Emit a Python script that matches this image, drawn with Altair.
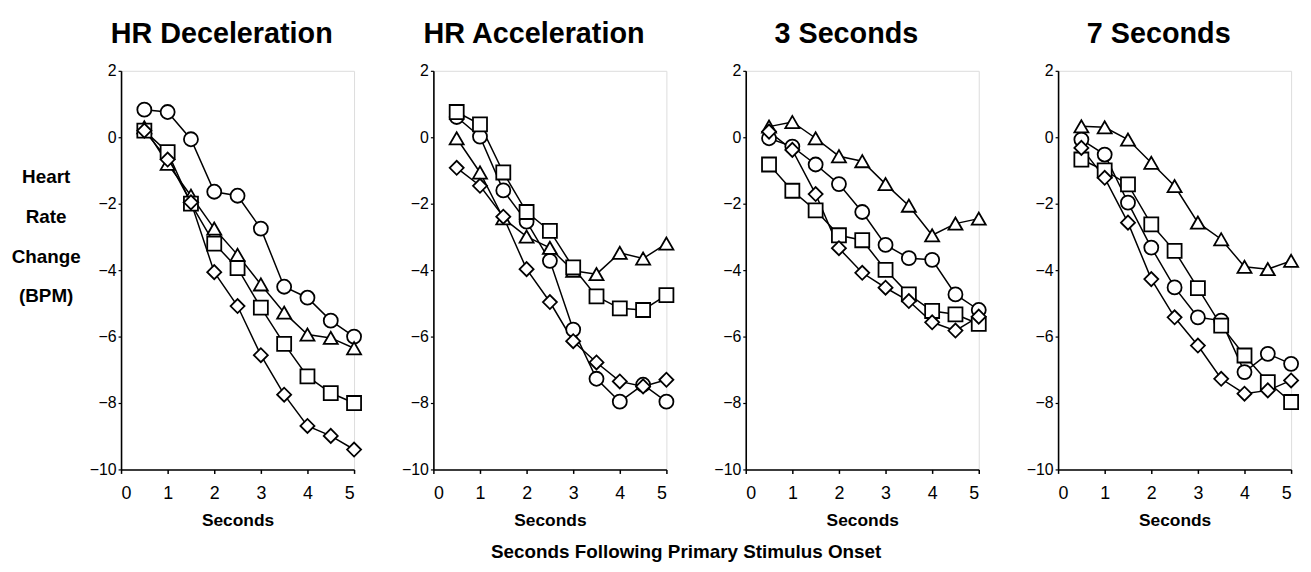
import altair as alt
import pandas as pd

seconds = [0.5, 1.0, 1.5, 2.0, 2.5, 3.0, 3.5, 4.0, 4.5, 5.0]
panel_titles = ["HR Deceleration", "HR Acceleration", "3 Seconds", "7 Seconds"]
series_names = ["circle", "triangle", "square", "diamond"]
shape_range = ["circle", "triangle-up", "square", "diamond"]

# HR Deceleration
dec_circle = [0.83, 0.76, -0.06, -1.64, -1.76, -2.75, -4.50, -4.83, -5.52, -6.00]
dec_triangle = [0.30, -0.80, -1.76, -2.75, -3.54, -4.43, -5.28, -5.94, -6.04, -6.35]
dec_square = [0.20, -0.45, -2.00, -3.20, -3.94, -5.13, -6.22, -7.20, -7.70, -8.00]
dec_diamond = [0.20, -0.67, -1.96, -4.06, -5.08, -6.56, -7.75, -8.69, -8.99, -9.40]

# HR Acceleration
acc_circle = [0.61, 0.02, -1.60, -2.54, -3.72, -5.79, -7.27, -7.96, -7.45, -7.96]
acc_triangle = [-0.03, -1.06, -2.44, -2.99, -3.33, -4.02, -4.12, -3.48, -3.65, -3.20]
acc_square = [0.76, 0.39, -1.06, -2.25, -2.82, -3.92, -4.79, -5.15, -5.20, -4.75]
acc_diamond = [-0.92, -1.46, -2.39, -3.97, -4.96, -6.14, -6.78, -7.35, -7.50, -7.30]

# 3 Seconds
s3_circle = [-0.03, -0.28, -0.82, -1.41, -2.25, -3.24, -3.64, -3.69, -4.73, -5.20]
s3_triangle = [0.32, 0.46, -0.03, -0.57, -0.72, -1.41, -2.06, -2.95, -2.60, -2.45]
s3_square = [-0.82, -1.61, -2.20, -2.95, -3.10, -3.99, -4.73, -5.23, -5.33, -5.62]
s3_diamond = [0.17, -0.38, -1.71, -3.34, -4.08, -4.53, -4.93, -5.57, -5.82, -5.40]

# 7 Seconds
s7_circle = [-0.07, -0.52, -1.97, -3.32, -4.52, -5.42, -5.52, -7.07, -6.52, -6.82]
s7_triangle = [0.33, 0.30, -0.07, -0.77, -1.47, -2.57, -3.07, -3.90, -3.97, -3.72]
s7_square = [-0.67, -1.00, -1.42, -2.62, -3.42, -4.54, -5.67, -6.57, -7.37, -7.97]
s7_diamond = [-0.32, -1.22, -2.57, -4.27, -5.42, -6.27, -7.27, -7.72, -7.62, -7.32]

panel_data = [
    [dec_circle, dec_triangle, dec_square, dec_diamond],
    [acc_circle, acc_triangle, acc_square, acc_diamond],
    [s3_circle, s3_triangle, s3_square, s3_diamond],
    [s7_circle, s7_triangle, s7_square, s7_diamond],
]

y_title_lines = ["Heart", "Rate", "Change", "(BPM)"]
x_title = "Seconds"
bottom_title = "Seconds Following Primary Stimulus Onset"

FONT = "Liberation Sans"


def make_df(values):
    rows = []
    for name, vals in zip(series_names, values):
        for t, v in zip(seconds, vals):
            rows.append({"t": t, "v": v, "s": name})
    return pd.DataFrame(rows)


def make_panel(title, values, first):
    df = make_df(values)
    x = alt.X(
        "t:Q",
        scale=alt.Scale(domain=[0, 5], nice=False, zero=False),
        axis=alt.Axis(
            values=[0, 1, 2, 3, 4, 5], title=x_title, grid=False,
            labelFontSize=18, labelFont=FONT, labelPadding=11,
            tickSize=4, tickColor="black", tickWidth=1.5,
            domainColor="black", domainWidth=1.6, labelColor="black",
            titleFont=FONT, titleFontSize=17.5, titleFontWeight="bold",
            titlePadding=10, titleColor="black",
        ),
    )
    yaxis_kwargs = dict(
        values=[-10, -8, -6, -4, -2, 0, 2], grid=False,
        labelFontSize=16, labelFont=FONT, labelPadding=2, labelColor="black",
        tickSize=3, tickColor="black", tickWidth=1.2,
        domainColor="black", domainWidth=1.6,
    )
    if first:
        yaxis_kwargs.update(
            title=y_title_lines, titleAngle=0,
            titleFont=FONT, titleFontSize=19, titleFontWeight="bold",
            titleColor="black", titleAlign="center", titleBaseline="bottom",
            titleX=-76, titleY=117, titleLineHeight=40,
        )
    else:
        yaxis_kwargs.update(title=None)
    y = alt.Y(
        "v:Q",
        scale=alt.Scale(domain=[-10, 2], nice=False, zero=False),
        axis=alt.Axis(**yaxis_kwargs),
    )
    lines = alt.Chart(df).mark_line(color="black", strokeWidth=1.5).encode(
        x=x, y=y, detail="s:N", order="t:Q"
    )
    pts = alt.Chart(df).mark_point(
        filled=True, fill="white", stroke="black", strokeWidth=1.8,
        size=200, opacity=1, fillOpacity=1,
    ).encode(
        x=x, y=y,
        shape=alt.Shape("s:N", scale=alt.Scale(domain=series_names, range=shape_range), legend=None),
    )
    return alt.layer(lines, pts).properties(
        width=235, height=402,
        title=alt.TitleParams(
            title, font=FONT, fontSize=29, fontWeight="bold", color="black",
            anchor="middle", frame="group", dx=-16, baseline="alphabetic", offset=-9,
        ),
    )


panels = [make_panel(t, v, i == 0) for i, (t, v) in enumerate(zip(panel_titles, panel_data))]

chart = alt.hconcat(*panels, spacing=35).properties(
    title=alt.TitleParams(
        bottom_title, orient="bottom",
        anchor="middle", font=FONT, fontSize=19, fontWeight="bold",
        color="black", dx=30, offset=13,
    ),
    padding={"left": 2, "top": 9, "right": 0, "bottom": 0},
).configure_view(stroke=None).configure(background="white")

chart.save("out.html", embed_options={"renderer": "svg", "actions": False})
